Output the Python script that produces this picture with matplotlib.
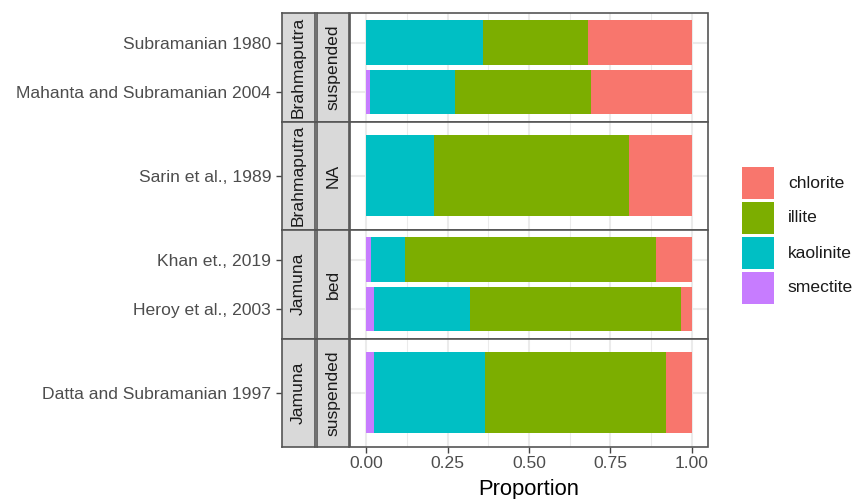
import matplotlib
matplotlib.use("Agg")
import matplotlib.pyplot as plt
from matplotlib.patches import Rectangle
import numpy as np

plt.rcParams['font.family'] = ['Liberation Sans', 'DejaVu Sans']

# ---------------- data ----------------
studies = ["Subramanian 1980", "Mahanta and Subramanian 2004", "Sarin et al., 1989",
           "Khan et., 2019", "Heroy et al., 2003", "Datta and Subramanian 1997"]
rivers = ["Brahmaputra", "Brahmaputra", "Brahmaputra", "Jamuna", "Jamuna", "Jamuna"]
sed_types = ["suspended", "suspended", "NA", "bed", "bed", "suspended"]
minerals = ["smectite", "kaolinite", "illite", "chlorite"]
smectite = [0.0, 0.012, 0.0, 0.016, 0.025, 0.025]
kaolinite = [0.36, 0.26, 0.207, 0.102, 0.293, 0.34]
illite = [0.32, 0.417, 0.599, 0.772, 0.65, 0.557]
chlorite = [0.32, 0.311, 0.194, 0.11, 0.032, 0.078]
legend_order = ["chlorite", "illite", "kaolinite", "smectite"]
colors = {"chlorite": "#F8766D", "illite": "#7CAE00", "kaolinite": "#00BFC4", "smectite": "#C77CFF"}
panel_keys = [("Brahmaputra", "suspended"), ("Brahmaputra", "NA"),
              ("Jamuna", "bed"), ("Jamuna", "suspended")]
x_ticks = [0.0, 0.25, 0.5, 0.75, 1.0]
x_ticklabels = ["0.00", "0.25", "0.50", "0.75", "1.00"]

values = {"smectite": smectite, "kaolinite": kaolinite, "illite": illite, "chlorite": chlorite}

# ---------------- layout ----------------
W, H = 854, 499
fig = plt.figure(figsize=(W / 100, H / 100), dpi=100)
fig.patch.set_facecolor("white")


def px_axes(l, t, r, b):
    return fig.add_axes([l / W, 1 - b / H, (r - l) / W, (b - t) / H])


panel_l, panel_r = 350, 708
river_l, river_r = 282, 315
type_l, type_r = 317, 349
edges = [13, 121.5, 230, 338.5, 447]
FS = 12.6
border_col = "#555555"
tick_col = "#444444"

for i, (rv, tp) in enumerate(panel_keys):
    top, bot = edges[i], edges[i + 1]
    idx = [k for k in range(len(studies)) if rivers[k] == rv and sed_types[k] == tp]
    idx = sorted(idx, key=lambda k: studies[k])
    ax = px_axes(panel_l, top, panel_r, bot)
    ypos = np.arange(1, len(idx) + 1)
    left = np.zeros(len(idx))
    for m in minerals:
        v = np.array([values[m][k] for k in idx])
        ax.barh(ypos, v, left=left, height=0.9, color=colors[m], linewidth=0, zorder=2)
        left = left + v
    ax.set_xlim(-0.05, 1.05)
    ax.set_ylim(0.4, len(idx) + 0.6)
    ax.set_yticks(ypos)
    ax.set_yticklabels([studies[k] for k in idx])
    ax.set_xticks(x_ticks)
    ax.set_xticks([0.125, 0.375, 0.625, 0.875], minor=True)
    ax.set_axisbelow(True)
    ax.grid(which="major", color="#EBEBEB", lw=1.5, zorder=0)
    ax.grid(which="minor", axis="x", color="#EBEBEB", lw=0.75, zorder=0)
    for s in ax.spines.values():
        s.set_visible(False)
    ax.spines["left"].set_position(("outward", (panel_l - river_l) * 0.72))
    ax.tick_params(axis="y", which="both", length=4.3, width=1.0, color=tick_col,
                   labelcolor="#4D4D4D", labelsize=FS, pad=3.5)
    ax.tick_params(axis="x", which="minor", length=0)
    if i == len(panel_keys) - 1:
        ax.set_xticklabels(x_ticklabels)
        ax.tick_params(axis="x", which="major", length=4.3, width=1.0, color=tick_col,
                       labelcolor="#4D4D4D", labelsize=FS, pad=2)
    else:
        ax.tick_params(axis="x", which="major", length=0, labelbottom=False)
    ax.add_patch(Rectangle((0, 0), 1, 1, transform=ax.transAxes, fill=False,
                           edgecolor=border_col, lw=1.2, clip_on=False, zorder=5))
    # strips
    for (l, r, txt) in [(river_l, river_r, rv), (type_l, type_r, tp)]:
        sa = px_axes(l, top, r, bot)
        sa.set_facecolor("#D9D9D9")
        sa.set_xticks([])
        sa.set_yticks([])
        for s in sa.spines.values():
            s.set_color(border_col)
            s.set_linewidth(1.2)
        sa.text(0.5, 0.5, txt, rotation=90, ha="center", va="center",
                fontsize=FS, color="#1A1A1A", transform=sa.transAxes)

fig.text((panel_l + panel_r) / 2 / W, 1 - 489 / H, "Proportion", ha="center", va="center",
         fontsize=15.8, color="black")

# legend (ggplot style keys)
key_l, key_w, key_top, key_h, key_pitch = 742, 32, 167, 32, 35
for j, m in enumerate(legend_order):
    t = key_top + j * key_pitch
    fig.patches.append(Rectangle((key_l / W, 1 - (t + key_h) / H), key_w / W, key_h / H,
                                 transform=fig.transFigure, facecolor=colors[m],
                                 edgecolor="none", figure=fig))
    fig.text(788 / W, 1 - (t + key_h / 2) / H, m, ha="left", va="center",
             fontsize=FS, color="#1A1A1A")

fig.savefig("out.png", dpi=100, facecolor="white")
